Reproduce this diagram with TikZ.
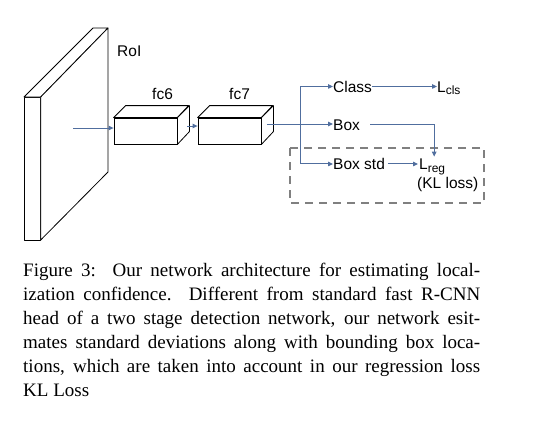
\documentclass[tikz,border=0pt]{standalone}
\usepackage{fontspec}
\setmainfont{Liberation Sans}
\newfontfamily\capfont{Liberation Serif}
\usetikzlibrary{arrows.meta,calc}
\definecolor{arrblue}{RGB}{80,110,158}
\definecolor{dashgray}{RGB}{128,128,128}
\begin{document}
\begin{tikzpicture}[x=1pt,y=-1pt,
  arr/.style={draw=arrblue,line width=1pt,-{Triangle[length=5pt,width=4.5pt]}},
  face/.style={draw=black,line width=0.8pt,fill=white,line join=round},
  lbl/.style={inner sep=0pt,anchor=base west,font=\fontsize{15.5}{18}\selectfont},
  fcbox/.style={draw=black,line width=0.8pt,fill=white,minimum width=63pt,minimum height=26pt,inner sep=0pt},
  group/.style={draw=dashgray,line width=2.5pt,dash pattern=on 8pt off 6pt}
]
\newcommand{\subtxt}[1]{\raisebox{-2.5pt}{\fontsize{12}{14}\selectfont #1}}
\useasboundingbox (0,0) rectangle (539,429);
% RoI plate
\draw[face] (24,97) -- (40.7,97) -- (40.7,240) -- (24,240) -- cycle;
\draw[face] (24,97) -- (93,28) -- (108,28) -- (40.7,97) -- cycle;
\draw[face] (40.7,97) -- (108,28) -- (108,172) -- (40.7,240) -- cycle;
\node[lbl] (roi) at (117,56) {RoI};
\coordinate (roiout) at (73,128);
% fc6
\node[fcbox] (fc6) at (145.5,131) {};
\draw[face] (fc6.north west) -- ++(12,-12) -- ++(63,0) -- (fc6.north east) -- cycle;
\draw[face] (fc6.north east) -- ++(12,-12) -- ++(0,26) -- (fc6.south east) -- cycle;
\node[lbl] (fc6lbl) at (152,99) {fc6};
% fc7
\node[fcbox] (fc7) at (229.5,131) {};
\draw[face] (fc7.north west) -- ++(12,-12) -- ++(63,0) -- (fc7.north east) -- cycle;
\draw[face] (fc7.north east) -- ++(12,-12) -- ++(0,26) -- (fc7.south east) -- cycle;
\node[lbl] (fc7lbl) at (229,99) {fc7};
\coordinate (fc6out) at (187,126);
\coordinate (fc7out) at (267,124);
\coordinate (split) at (300,124);
% outputs
\node[lbl] (class) at (333,92) {Class};
\node[lbl] (box) at (333,130) {Box};
\node[lbl] (boxstd) at (333,169.5) {Box std};
\node[lbl] (lcls) at (437,92) {L\subtxt{cls}};
\node[lbl] (lreg) at (419,169.5) {L\subtxt{reg}};
\node[lbl] (kl) at (417,188) {(KL loss)};
% dashed group
\draw[group] (290,148) rectangle (484,203);
% arrows
\draw[arr] (roiout) -- (roiout -| fc6.west);
\draw[arr] (fc6out) -- (fc6out -| fc7.west);
\draw[arr] (fc7out) -- (fc7out -| box.west);
\draw[arr] (split) |- (class.west);
\draw[arr] (split) |- (boxstd.west);
\draw[arr] (class.east) -- (class.east -| lcls.west);
\draw[arr] ([xshift=10pt]box.east) -| ([xshift=2pt,yshift=2pt]lreg.north);
\draw[arr] ([xshift=3pt]boxstd.east) -- ([xshift=-1pt]boxstd.east -| lreg.west);
% caption
\node[anchor=base west,inner sep=0pt] (caption) at (23,276) {\parbox[t]{457pt}{\capfont\fontsize{19}{24.1}\selectfont
\makebox[457pt][s]{Figure 3:\ \ Our network architecture for estimating local-}\\
\makebox[457pt][s]{ization confidence.\ \ Different from standard fast R-CNN}\\
\makebox[457pt][s]{head of a two stage detection network, our network esit-}\\
\makebox[457pt][s]{mates standard deviations along with bounding box loca-}\\
\makebox[457pt][s]{tions, which are taken into account in our regression loss}\\
KL Loss}};
\end{tikzpicture}
\end{document}
